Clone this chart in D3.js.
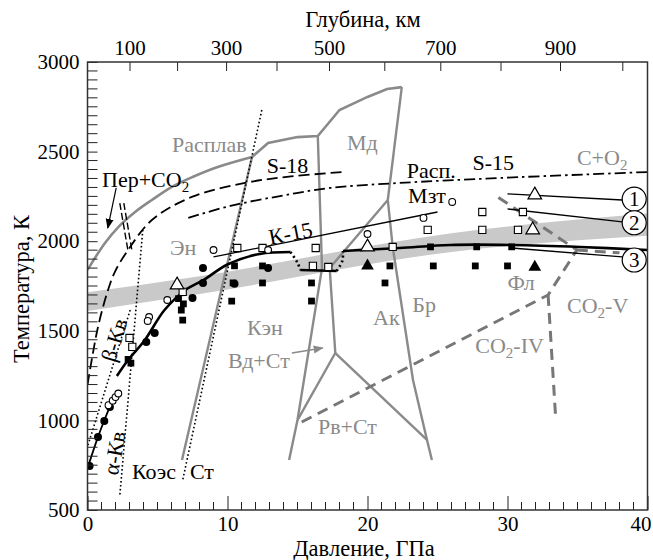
<!DOCTYPE html>
<html>
<head>
<meta charset="utf-8">
<script src="https://cdn.jsdelivr.net/npm/d3@7"></script>
<style>
  body { margin: 0; background: #fff; }
  svg { display: block; }
</style>
</head>
<body>
<svg id="chart" width="653" height="560"></svg>
<script>
// ---- data: pressure P (GPa), temperature T (K) ----
const pressureTicks = [0, 10, 20, 30, 40];
const tempTicks = [500, 1000, 1500, 2000, 2500, 3000];
const depthKm = [100, 200, 300, 400, 500, 600, 700, 800, 900, 1000];
const depthPressure = [3.0, 6.4, 9.9, 13.5, 17.25, 21.2, 25.2, 29.5, 33.75, 38.2];
const depthLabels = [100, 300, 500, 700, 900];

// grey band
const bandP = [0, 8, 26, 40];
const bandLow = [1610, 1705, 1940, 2030];
const bandHigh = [1715, 1805, 2045, 2155];

// grey phase boundaries
const meltLow = [[0, 1840], [1.25, 1990], [2.2, 2079], [3.4, 2163], [4.6, 2230], [6.0, 2302], [7.5, 2358], [9.3, 2414], [11.75, 2470]];
const meltHigh = [[11.75, 2470], [12.9, 2548], [15.0, 2581], [16.45, 2587], [18.0, 2732], [20.0, 2805], [21.4, 2849], [22.45, 2860]];
const kenBoundary = [[11.75, 2470], [6.75, 779]];
const lineB = [[16.45, 2587], [16.75, 1850], [15.0, 1002], [14.4, 779]];
const mdRight = [[22.45, 2860], [21.45, 2230]];
const akBr = [[21.45, 2230], [21.8, 1968], [23.25, 1226], [24.25, 891], [24.6, 779]];
const lineC = [[21.45, 2230], [17.3, 1850], [17.7, 1376]];
const forkLeft = [[17.7, 1376], [15.0, 1002]];
const forkRight = [[17.7, 1376], [24.25, 891]];

// grey dashed CO2 boundaries
const co2Main = [[15.3, 991], [32.9, 1700], [34.95, 1951], [29.3, 2247]];
const co2Vertical = [[32.9, 1700], [33.45, 1002]];
const co2Right = [[34.95, 1951], [38.0, 1935]];

// black dotted
const coesite = [[12.45, 2732], [6.8, 667]];
const quartzA = [[3.95, 2063], [2.3, 573]];
const quartzB = [[3.05, 1616], [0.04, 863]];

// black dashed / dash-dot
const solidusS18 = [[0, 1198], [0.3, 1337], [0.75, 1521], [1.4, 1711], [1.95, 1828], [2.9, 1951], [4.6, 2118], [7.45, 2247], [11.25, 2325], [14.1, 2358], [18.25, 2386]];
const solidusS15 = [[7.2, 2130], [10.2, 2197], [13.75, 2252], [17.3, 2297], [22.3, 2325], [29.5, 2353], [40, 2386]];
const perCo2 = [[2.45, 2213], [3.05, 1940]];

// thin black lines
const k15 = [[9.0, 1912], [25.0, 2163]];
const leader1 = [[30.0, 2264], [38.2, 2230]];
const leader2 = [[30.0, 2180], [38.2, 2108]];
const leader3 = [[30.3, 1962], [38.2, 1912]];

// thick black curve
const alphaSeg = [[0.05, 745], [0.75, 908], [1.2, 1000], [1.8, 1114]];
const mainA = [[2.1, 1248], [2.9, 1337], [4.1, 1449], [5.5, 1616], [7.0, 1728], [8.3, 1784], [10.0, 1870], [12.3, 1929], [14.5, 1940]];
const dropDotted = [[14.5, 1940], [15.0, 1880], [15.2, 1839]];
const stepFlat = [[15.2, 1839], [17.8, 1834]];
const riseDotted = [[17.8, 1834], [18.2, 1890], [18.25, 1945]];
const mainB = [[18.25, 1945], [22.3, 1962], [25.9, 1979], [30.3, 1979], [35.2, 1968], [40, 1951]];

// experimental points
const filledCircles = [[0.15, 746], [0.75, 908], [1.2, 997], [1.6, 1075], [4.2, 1438], [4.8, 1488], [7.5, 1683], [8.25, 1767], [8.25, 1851], [10.5, 1762], [12.9, 1851]];
const filledSquares = [[2.9, 1340], [3.1, 1320], [6.5, 1680], [6.85, 1650], [6.7, 1616], [6.8, 1560], [10.5, 1862], [12.5, 1862], [10.4, 1767], [12.5, 1767], [10.3, 1666], [16.0, 1767], [16.0, 1666], [21.6, 1862], [21.25, 1767], [24.7, 1862], [27.7, 1862], [30.0, 1862], [24.5, 1968], [27.8, 1968], [30.3, 1968]];
const openSquares = [[10.7, 1962], [12.5, 1962], [16.3, 1962], [16.1, 1862], [17.2, 1856], [21.8, 1968], [24.3, 2063], [28.2, 2063], [30.75, 2063], [28.2, 2163], [31.1, 2163], [6.8, 1717], [3.0, 1460], [3.2, 1410]];
const openCircles = [[9.0, 1951], [12.9, 1951], [20.0, 2040], [24.0, 2130], [26.05, 2219], [5.7, 1672], [4.4, 1577], [4.3, 1555], [1.5, 1085], [1.8, 1110], [2.0, 1130], [2.2, 1150]];
const openTriangles = [[6.4, 1756], [20.0, 1968], [31.95, 2258], [31.8, 2063]];
const filledTriangles = [[20.0, 1862], [31.95, 1856]];

// labels: text, P, T ("_2" marks a subscript 2)
const greyLabels = [
  ["Расплав", 6.04, 2498], ["Мд", 18.54, 2509], ["C+O_2", 34.96, 2425], ["Эн", 5.89, 1923],
  ["Кэн", 11.4, 1477], ["Вд+Ст", 10.04, 1293], ["Ак", 20.4, 1532], ["Бр", 23.2, 1605],
  ["Фл", 30.0, 1728], ["CO_2-V", 34.25, 1600], ["CO_2-IV", 27.7, 1376], ["Рв+Ст", 16.46, 924]
];
const blackLabels = [
  ["Пер+CO_2", 1.04, 2302], ["S-18", 12.8, 2381], ["Расп.", 22.8, 2353], ["S-15", 27.5, 2397],
  ["Мзт", 22.9, 2213], ["Коэс", 3.18, 673], ["Ст", 7.32, 673]
];
const rotatedLabels = [["К-15", 14.5, 2046, -11], ["β-Кв", 1.9, 1449, -73], ["α-Кв", 1.9, 818, -80]];
const numberLabels = [["1", 39.05, 2235], ["2", 39.05, 2103], ["3", 39.05, 1895]];
const perArrow = [[2.05, 2297], [1.45, 2074]];
const vdArrow = [[14.6, 1376], [16.8, 1404]];

// ---- chart ----
const width = 653, height = 560;
const x = d3.scaleLinear().domain([0, 40]).range([87.5, 647.5]);
const y = d3.scaleLinear().domain([500, 3000]).range([510, 62]);
const grey = "#8a8a8a";
const tickSize = 21, labelSize = 22, titleSize = 22.5;
const font = "Liberation Serif";

const svg = d3.select("#chart").attr("font-family", font);
svg.append("rect").attr("width", width).attr("height", height).attr("fill", "#fff");

const defs = svg.append("defs");
defs.append("clipPath").attr("id", "plot").append("rect")
  .attr("x", x(0)).attr("y", y(3000))
  .attr("width", x(40) - x(0)).attr("height", y(500) - y(3000));
[["arrowBlack", "#000"], ["arrowGrey", grey]].forEach(([id, c]) => {
  defs.append("marker").attr("id", id)
    .attr("viewBox", "0 0 10 10").attr("refX", 9).attr("refY", 5)
    .attr("markerWidth", 10).attr("markerHeight", 10).attr("markerUnits", "userSpaceOnUse")
    .attr("orient", "auto")
    .append("path").attr("d", "M0,1 L10,5 L0,9 Z").attr("fill", c);
});

const plot = svg.append("g").attr("clip-path", "url(#plot)");
const line = d3.line().x(d => x(d[0])).y(d => y(d[1]));
const smooth = d3.line().x(d => x(d[0])).y(d => y(d[1])).curve(d3.curveCatmullRom.alpha(0.5));

function draw(data, gen, color, w, dash) {
  return plot.append("path").datum(data)
    .attr("d", gen).attr("fill", "none")
    .attr("stroke", color).attr("stroke-width", w)
    .attr("stroke-dasharray", dash || null);
}

// band
const band = d3.area()
  .x((d, i) => x(bandP[i]))
  .y0((d, i) => y(bandLow[i]))
  .y1((d, i) => y(bandHigh[i]))
  .curve(d3.curveMonotoneX);
plot.append("path").datum(bandP).attr("d", band).attr("fill", "#c9c9c9");

// grey solid boundaries
draw(meltLow, smooth, grey, 2.6);
draw(meltHigh, line, grey, 2.6);
[kenBoundary, lineB, mdRight, akBr, lineC, forkLeft, forkRight].forEach(d => draw(d, line, grey, 2.4));

// grey dashed CO2 boundaries
[co2Main, co2Vertical, co2Right].forEach(d => draw(d, line, "#777", 3, "11,7"));

// dotted
[coesite, quartzA, quartzB].forEach(d => draw(d, line, "#000", 1.6, "1.6,2.4"));

// dashed and dash-dot
draw(solidusS18, smooth, "#000", 1.8, "11,5");
draw(solidusS15, smooth, "#000", 1.8, "11,4,2.5,4");
draw(perCo2, line, "#000", 1.4, "7,3").attr("transform", "translate(-2,0)");
draw(perCo2, line, "#000", 1.4, "7,3").attr("transform", "translate(2,0)");

// thin black lines
[k15, leader1, leader2, leader3].forEach(d => draw(d, line, "#000", 1.3));

// thick black curve
draw(alphaSeg, smooth, "#000", 1.8);
draw(mainA, smooth, "#000", 2.6);
draw(dropDotted, smooth, "#000", 2.6, "2,3");
draw(stepFlat, line, "#000", 2.6);
draw(riseDotted, smooth, "#000", 2.6, "2,3");
draw(mainB, smooth, "#000", 2.6);

// points
function points(data, type, size, fill, sw) {
  plot.append("g").selectAll("path").data(data).join("path")
    .attr("transform", d => `translate(${x(d[0])},${y(d[1])})`)
    .attr("d", d3.symbol().type(type).size(size))
    .attr("fill", fill).attr("stroke", "#000").attr("stroke-width", sw);
}
points(filledSquares, d3.symbolSquare, 46, "#000", 0);
points(openSquares, d3.symbolSquare, 52, "#fff", 1.1);
points(filledCircles, d3.symbolCircle, 50, "#000", 0);
points(openCircles, d3.symbolCircle, 36, "#fff", 1.1);
points(openTriangles, d3.symbolTriangle, 80, "#fff", 1.2);
points(filledTriangles, d3.symbolTriangle, 70, "#000", 0);

// arrows
svg.append("path").datum(perArrow).attr("d", line)
  .attr("stroke", "#000").attr("stroke-width", 1.2).attr("fill", "none")
  .attr("marker-end", "url(#arrowBlack)");
svg.append("path").datum(vdArrow).attr("d", line)
  .attr("stroke", grey).attr("stroke-width", 1.6).attr("fill", "none")
  .attr("marker-end", "url(#arrowGrey)");

// labels
function addText(g, str) {
  const parts = str.split("_2");
  g.append("tspan").text(parts[0]);
  if (parts.length > 1) {
    g.append("tspan").attr("font-size", 15).attr("dy", 5).text("2");
    if (parts[1]) g.append("tspan").attr("dy", -5).text(parts[1]);
  }
}
greyLabels.forEach(([t, p, temp]) => {
  const g = svg.append("text").attr("x", x(p)).attr("y", y(temp))
    .attr("font-size", labelSize).attr("fill", grey);
  addText(g, t);
});
blackLabels.forEach(([t, p, temp]) => {
  const g = svg.append("text").attr("x", x(p)).attr("y", y(temp))
    .attr("font-size", labelSize).attr("fill", "#000");
  addText(g, t);
});
rotatedLabels.forEach(([t, p, temp, a]) => {
  svg.append("text")
    .attr("transform", `translate(${x(p)},${y(temp)}) rotate(${a})`)
    .attr("text-anchor", "middle").attr("dy", "0.35em")
    .attr("font-size", labelSize).attr("fill", "#000")
    .text(t);
});
numberLabels.forEach(([t, p, temp]) => {
  svg.append("circle").attr("cx", x(p)).attr("cy", y(temp)).attr("r", 12)
    .attr("fill", "#fff").attr("stroke", "#000").attr("stroke-width", 1.2);
  svg.append("text").attr("x", x(p)).attr("y", y(temp)).attr("dy", "0.35em")
    .attr("text-anchor", "middle").attr("font-size", 21).text(t);
});

// axes
const axisBottom = svg.append("g").attr("transform", `translate(0,${y(500)})`)
  .call(d3.axisBottom(x).tickValues(pressureTicks).tickFormat(d3.format("d"))
    .tickSizeInner(-14).tickSizeOuter(0).tickPadding(6));
axisBottom.append("g").selectAll("line").data(d3.range(1, 40).filter(v => v % 10 !== 0)).join("line")
  .attr("x1", d => x(d)).attr("x2", d => x(d)).attr("y1", 0).attr("y2", -8)
  .attr("stroke", "#222");
axisBottom.selectAll(".tick text").filter(d => d === 40).attr("dx", -7);

const axisLeft = svg.append("g").attr("transform", `translate(${x(0)},0)`)
  .call(d3.axisLeft(y).tickValues(tempTicks).tickFormat(d3.format("d"))
    .tickSizeInner(-10).tickSizeOuter(0).tickPadding(8));
axisLeft.append("g").selectAll("line").data(d3.range(550, 3000, 50).filter(v => v % 500 !== 0)).join("line")
  .attr("x1", 0).attr("x2", 10).attr("y1", d => y(d)).attr("y2", d => y(d))
  .attr("stroke", "#222");

const axisTop = svg.append("g").attr("transform", `translate(0,${y(3000)})`)
  .call(d3.axisTop(x).tickValues(depthPressure).tickSizeInner(-9).tickSizeOuter(0).tickPadding(7)
    .tickFormat((d, i) => depthLabels.includes(depthKm[i]) ? depthKm[i] : ""));

[axisBottom, axisLeft, axisTop].forEach(a => {
  a.attr("font-family", font).attr("font-size", tickSize);
  a.select(".domain").remove();
  a.selectAll(".tick line").attr("stroke", "#222");
  a.selectAll("text").attr("fill", "#000");
});

// frame
svg.append("rect").attr("x", x(0)).attr("y", y(3000))
  .attr("width", x(40) - x(0)).attr("height", y(500) - y(3000))
  .attr("fill", "none").attr("stroke", "#333").attr("stroke-width", 1.5);

// axis titles
svg.append("text").attr("x", 364).attr("y", 555.5).attr("text-anchor", "middle")
  .attr("font-size", titleSize).text("Давление, ГПа");
svg.append("text").attr("x", 363).attr("y", 27).attr("text-anchor", "middle")
  .attr("font-size", titleSize).text("Глубина, км");
svg.append("text").attr("transform", "translate(29,289) rotate(-90)").attr("text-anchor", "middle")
  .attr("font-size", titleSize).text("Температура, К");
</script>
</body>
</html>
